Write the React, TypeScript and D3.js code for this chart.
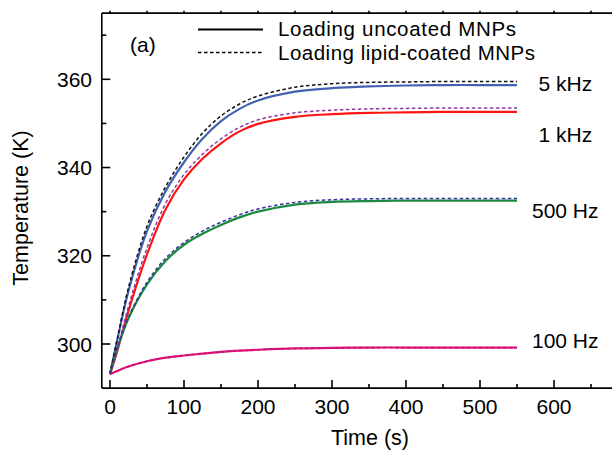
import React, { useEffect, useRef } from "react";
import * as d3 from "d3";

// time points in seconds
const times = [0, 10, 25, 50, 75, 100, 125, 150, 175, 200, 250, 300, 350, 400, 450, 500, 550];

// temperatures (K), uncoated = solid, lipid-coated = dashed
const uncoated5k = [293.2, 301, 312, 325.6, 334.6, 341.2, 346.5, 350.5, 353.3, 355.2, 357.2, 358, 358.4, 358.6, 358.7, 358.7, 358.7];
const coated5k = [293.2, 301.3, 312.8, 326.7, 335.6, 342.4, 347.8, 351.7, 354.4, 356.2, 358.2, 359, 359.3, 359.4, 359.5, 359.5, 359.5];
const uncoated1k = [293.2, 298.5, 307.5, 320.3, 330.5, 337.3, 342, 345.5, 348.2, 349.9, 351.5, 352.1, 352.4, 352.5, 352.6, 352.6, 352.6];
const coated1k = [293.2, 299, 308.5, 321.8, 331.8, 338.4, 343, 346.5, 349.1, 350.8, 352.4, 353, 353.3, 353.4, 353.5, 353.5, 353.5];
const uncoated500 = [293.2, 299, 305.8, 313.5, 318.8, 322.5, 325, 327, 328.7, 330, 331.6, 332.2, 332.4, 332.5, 332.5, 332.5, 332.5];
const coated500 = [293.2, 299.2, 306.1, 314, 319.4, 323, 325.6, 327.6, 329.3, 330.6, 332.1, 332.7, 332.9, 333, 333, 333, 333];
const uncoated100 = [293.2, 293.9, 294.9, 296.1, 296.9, 297.4, 297.8, 298.2, 298.5, 298.7, 299, 299.1, 299.2, 299.2, 299.2, 299.2, 299.2];
const coated100 = [293.2, 293.9, 294.9, 296.1, 296.9, 297.4, 297.8, 298.2, 298.5, 298.7, 299, 299.1, 299.2, 299.2, 299.2, 299.2, 299.2];

const freqLabels = ["5 kHz", "1 kHz", "500 Hz", "100 Hz"];
const labelTemps = [357.4, 345.9, 328.5, 299.0];
const xTicks = [0, 100, 200, 300, 400, 500, 600];
const yTicks = [300, 320, 340, 360];

const series = [
  { values: uncoated5k, color: "#4262b0", dashed: false },
  { values: uncoated1k, color: "#ff1414", dashed: false },
  { values: uncoated500, color: "#1b8a3e", dashed: false },
  { values: uncoated100, color: "#e3157c", dashed: false },
  { values: coated5k, color: "#111111", dashed: true },
  { values: coated1k, color: "#8a3a9c", dashed: true },
  { values: coated500, color: "#35359a", dashed: true },
  { values: coated100, color: "#c8106a", dashed: true },
];

const W = 612;
const H = 452;
const FONT = "'Liberation Sans', Arial, sans-serif";

export default function App() {
  const ref = useRef<SVGSVGElement>(null);

  useEffect(() => {
    const svg = d3.select(ref.current);
    svg.selectAll("*").remove();

    const x = d3.scaleLinear().domain([0, 600]).range([110, 554]);
    const y = d3.scaleLinear().domain([300, 360]).range([344, 79.3]);
    const x0 = x(-11.1), x1 = W + 2;
    const yTop = y(375), yBot = y(290);

    const g = svg.append("g");

    // curves
    const line = d3
      .line<number>()
      .x((_, i) => x(times[i]))
      .y((d) => y(d))
      .curve(d3.curveCatmullRom.alpha(0.5));

    series.forEach((s) => {
      g.append("path")
        .attr("d", line(s.values))
        .attr("fill", "none")
        .attr("stroke", s.color)
        .attr("stroke-width", s.dashed ? 1.5 : 2.2)
        .attr("stroke-dasharray", s.dashed ? "3.5,2.5" : null);
    });

    // frame
    const frame = svg.append("g").attr("stroke", "#000").attr("stroke-width", 1.6);
    frame.append("line").attr("x1", x0).attr("x2", x1).attr("y1", yBot).attr("y2", yBot);
    frame.append("line").attr("x1", x0).attr("x2", x1).attr("y1", yTop).attr("y2", yTop);
    frame.append("line").attr("x1", x0).attr("x2", x0).attr("y1", yTop).attr("y2", yBot);

    // x ticks (inward on bottom, small outward on top)
    d3.range(0, 700, 50).forEach((t) => {
      const major = t % 100 === 0;
      frame.append("line").attr("x1", x(t)).attr("x2", x(t))
        .attr("y1", yBot).attr("y2", yBot - (major ? 8 : 4));
      frame.append("line").attr("x1", x(t)).attr("x2", x(t))
        .attr("y1", yTop).attr("y2", yTop - 2.5);
    });
    // y ticks inward
    d3.range(300, 380, 10).forEach((v) => {
      const major = v % 20 === 0;
      frame.append("line").attr("x1", x0).attr("x2", x0 + (major ? 8.5 : 4.5))
        .attr("y1", y(v)).attr("y2", y(v));
    });

    const text = svg.append("g").attr("font-family", FONT).attr("fill", "#000");

    xTicks.forEach((t) => {
      text.append("text").attr("x", x(t)).attr("y", 413.5)
        .attr("text-anchor", "middle").attr("font-size", 21).text(t);
    });
    yTicks.forEach((v) => {
      text.append("text").attr("x", 92).attr("y", y(v) + 7.5)
        .attr("text-anchor", "end").attr("font-size", 21).text(v);
    });

    text.append("text").attr("x", 370).attr("y", 445)
      .attr("text-anchor", "middle").attr("font-size", 21.5).text("Time (s)");
    text.append("text").attr("transform", "translate(28,208) rotate(-90)")
      .attr("text-anchor", "middle").attr("font-size", 21.5).text("Temperature (K)");

    text.append("text").attr("x", 130).attr("y", 52).attr("font-size", 21).text("(a)");

    // legend
    svg.append("line").attr("x1", 198).attr("x2", 263).attr("y1", 29.5).attr("y2", 29.5)
      .attr("stroke", "#000").attr("stroke-width", 2.2);
    svg.append("line").attr("x1", 198).attr("x2", 263).attr("y1", 52.5).attr("y2", 52.5)
      .attr("stroke", "#000").attr("stroke-width", 1.5).attr("stroke-dasharray", "3.5,2.5");
    text.append("text").attr("x", 278).attr("y", 36).attr("font-size", 20.5)
      .attr("textLength", 238).text("Loading uncoated MNPs");
    text.append("text").attr("x", 278).attr("y", 60).attr("font-size", 20.5)
      .attr("textLength", 257).text("Loading lipid-coated MNPs");

    // frequency labels
    freqLabels.forEach((lab, i) => {
      text.append("text").attr("x", i < 2 ? 538.5 : 532).attr("y", y(labelTemps[i]))
        .attr("font-size", 21).text(lab);
    });
  }, []);

  return (
    <svg
      ref={ref}
      width={W}
      height={H}
      style={{ position: "absolute", left: 0, top: 0, background: "#fff" }}
    />
  );
}
